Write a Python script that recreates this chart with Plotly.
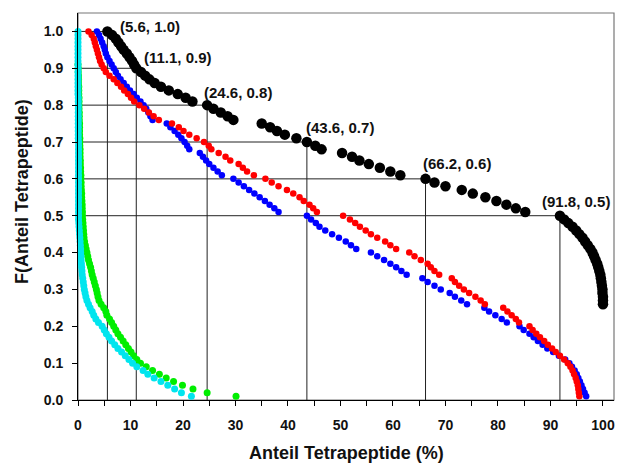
import plotly.graph_objects as go

# ---------------- data ----------------
F_LEVELS = [1.00, 0.99, 0.98, 0.97, 0.96, 0.95, 0.94, 0.93, 0.92, 0.91,
            0.90, 0.89, 0.88, 0.87, 0.86, 0.85, 0.84, 0.83, 0.82, 0.81,
            0.80, 0.79, 0.78, 0.77, 0.76, 0.75, 0.74, 0.73, 0.72, 0.71,
            0.70, 0.69, 0.68, 0.67, 0.66, 0.65, 0.64, 0.63, 0.62, 0.61,
            0.60, 0.59, 0.58, 0.57, 0.56, 0.55, 0.54, 0.53, 0.52, 0.51,
            0.50, 0.49, 0.48, 0.47, 0.46, 0.45, 0.44, 0.43, 0.42, 0.41,
            0.40, 0.39, 0.38, 0.37, 0.36, 0.35, 0.34, 0.33, 0.32, 0.31,
            0.30, 0.29, 0.28, 0.27, 0.26, 0.25, 0.24, 0.23, 0.22, 0.21,
            0.20, 0.19, 0.18, 0.17, 0.16, 0.15, 0.14, 0.13, 0.12, 0.11,
            0.10, 0.09, 0.08, 0.07, 0.06, 0.05, 0.04, 0.03, 0.02, 0.01]

black_x = [5.6, 6.5, 7.2, 7.7, 8.2, 8.7, 9.3, 9.8, 10.3, 10.7,
           11.1, 12.0, 12.8, 13.6, 14.6, 15.8, 17.3, 19.0, 20.5, 21.8,
           24.6, 25.8, 27.2, 28.5, 29.6, 35.0, 36.6, 37.9, 39.4, 41.6,
           43.6, 45.2, 46.4, 50.3, 52.2, 53.6, 55.4, 57.5, 59.5, 61.4,
           66.2, 67.9, 70.0, 73.1, 75.2, 77.6, 79.7, 81.6, 83.4, 85.2,
           91.8, 92.6, 93.4, 94.2, 94.9, 95.5, 96.1, 96.6, 97.1, 97.6,
           98.0, 98.3, 98.6, 98.9, 99.1, 99.3, 99.5, 99.6, 99.7, 99.8,
           99.9, 99.9, 100.0, 100.0, 100.0]
black_y = F_LEVELS[:75]

blue_x = [3.6, 4.0, 4.3, 4.6, 4.9, 5.1, 5.3, 5.6, 6.0, 6.4,
          6.8, 7.2, 7.6, 8.1, 8.7, 9.3, 9.9, 10.6, 11.2, 11.9,
          12.5, 13.0, 13.4, 13.8, 14.2, 16.9, 17.6, 18.4, 19.1, 19.7,
          20.3, 20.8, 21.2, 23.2, 23.8, 24.4, 25.0, 25.8, 26.6, 27.4,
          29.6, 30.6, 31.6, 32.6, 33.6, 34.6, 35.6, 36.5, 37.4, 38.2,
          43.6, 44.4, 45.3, 46.0, 47.1, 48.4, 49.7, 51.0, 52.0, 53.0,
          55.8, 57.0, 58.3, 59.5, 60.6, 61.6, 62.6, 65.6, 66.6, 67.9,
          69.1, 70.8, 71.8, 73.0, 74.1, 77.4, 78.3, 79.5, 80.7, 81.7,
          84.1, 84.9, 86.0, 86.8, 87.6, 88.5, 89.4, 90.5, 91.6, 92.8,
          93.6, 94.1, 94.6, 95.0, 95.3, 95.6, 95.9, 96.2, 96.5, 96.8]
blue_y = F_LEVELS

red_x = [2.0, 2.6, 3.0, 3.2, 3.4, 3.6, 3.8, 4.0, 4.2, 4.5,
         4.9, 5.3, 6.0, 6.8, 7.5, 8.2, 8.8, 9.5, 10.1, 10.7,
         11.7, 12.6, 13.5, 14.4, 15.4, 17.9, 19.2, 20.1, 21.2, 22.6,
         24.0, 24.9, 25.4, 26.8, 28.1, 29.0, 30.6, 31.4, 32.2, 33.5,
         35.7, 36.9, 38.2, 39.8, 41.0, 42.2, 43.0, 44.1, 44.8, 45.5,
         50.5, 51.8, 52.8, 53.7, 54.8, 55.8, 57.0, 58.5, 59.5, 60.6,
         63.1, 64.1, 65.3, 66.6, 67.2, 67.9, 68.8, 71.2, 71.8, 72.6,
         73.5, 74.5, 75.7, 76.7, 77.5, 81.0, 81.8, 82.6, 83.4, 84.0,
         86.0, 86.6, 87.3, 88.0, 88.8, 89.5, 90.3, 91.0, 91.8, 92.6,
         93.3, 93.8, 94.2, 94.5, 94.8, 95.0, 95.2, 95.3, 95.4, 95.5]
red_y = F_LEVELS

green_x = [0.0, 0.05, 0.05, 0.1, 0.1, 0.1, 0.15, 0.15, 0.15, 0.2,
           0.2, 0.2, 0.2, 0.25, 0.25, 0.25, 0.3, 0.3, 0.3, 0.3,
           0.35, 0.35, 0.35, 0.4, 0.4, 0.4, 0.45, 0.45, 0.5, 0.5,
           0.55, 0.55, 0.6, 0.6, 0.65, 0.7, 0.7, 0.75, 0.8, 0.8,
           0.85, 0.85, 0.9, 0.95, 1.0, 1.05, 1.1, 1.15, 1.25, 1.4,
           1.55, 1.7, 1.85, 2.0, 2.2, 2.4, 2.55, 2.7, 2.9, 3.1,
           3.3, 3.5, 3.65, 3.8, 4.0, 4.4, 4.9, 5.3, 5.5, 6.0,
           6.4, 6.8, 7.2, 7.6, 8.1, 8.6, 9.1, 9.6, 10.1, 10.6,
           11.2, 11.9, 13.0, 14.2, 15.5, 16.8, 18.2, 19.9, 21.9, 24.6,
           30.1]
green_y = F_LEVELS[9:]

cyan_x = [0.0, 0.0, 0.0, 0.0, 0.0, 0.0, 0.0, 0.0, 0.0, 0.0,
          0.0, 0.0, 0.0, 0.0, 0.0, 0.0, 0.0, 0.0, 0.05, 0.05,
          0.05, 0.05, 0.05, 0.05, 0.05, 0.05, 0.05, 0.05, 0.05, 0.05,
          0.1, 0.1, 0.1, 0.1, 0.1, 0.1, 0.1, 0.1, 0.1, 0.1,
          0.1, 0.1, 0.1, 0.1, 0.1, 0.1, 0.1, 0.1, 0.1, 0.1,
          0.1, 0.1, 0.15, 0.2, 0.25, 0.3, 0.35, 0.4, 0.45, 0.5,
          0.5, 0.55, 0.6, 0.65, 0.7, 0.75, 0.8, 0.9, 1.0, 1.1,
          1.2, 1.35, 1.5, 1.7, 2.0, 2.3, 2.7, 3.0, 3.4, 3.9,
          4.6, 5.0, 5.4, 5.9, 6.4, 7.0, 7.6, 8.3, 9.0, 9.7,
          10.4, 11.2, 12.4, 13.3, 14.5, 15.8, 17.1, 18.4, 19.7, 21.6]
cyan_y = F_LEVELS

label_x = [5.6, 11.1, 24.6, 43.6, 66.2, 91.8]
label_y = [1.0, 0.9, 0.8, 0.7, 0.6, 0.5]

x_title = "Anteil Tetrapeptide (%)"
y_title = "F(Anteil Tetrapeptide)"

# ---------------- styling ----------------
FONT = "Liberation Sans, Arial, sans-serif"
label_dx = [11, 6, -5, -3, -5, -20]
label_dy = [5, 11, 13, 15, 15, 14]

fig = go.Figure()

series = [
    (black_x, black_y, "#000000", 10.5),
    (blue_x, blue_y, "#0000FF", 6.5),
    (red_x, red_y, "#FF0000", 6.5),
    (green_x, green_y, "#00EE00", 7),
    (cyan_x, cyan_y, "#00E5EE", 7),
]
for xs, ys, col, sz in series:
    fig.add_trace(go.Scatter(x=xs, y=ys, mode="markers",
                             marker=dict(color=col, size=sz, line=dict(width=0)),
                             cliponaxis=False, showlegend=False, hoverinfo="skip"))

# reference lines (drop lines to the axes)
for lx, ly in zip(label_x, label_y):
    fig.add_shape(type="line", x0=lx, x1=lx, y0=0, y1=ly, xref="x", yref="y",
                  line=dict(color="#222222", width=1), layer="below")
    fig.add_shape(type="line", x0=0, x1=lx, y0=ly, y1=ly, xref="x", yref="y",
                  line=dict(color="#222222", width=1), layer="below")

# frame (top/right)
fig.add_shape(type="rect", xref="paper", yref="paper", x0=0, x1=1, y0=0, y1=1,
              line=dict(color="#777777", width=1.2), layer="below")

for lx, ly, dx, dy in zip(label_x, label_y, label_dx, label_dy):
    fig.add_annotation(x=lx, y=ly, xref="x", yref="y", text=f"({lx:.1f}, {ly:.1f})",
                       showarrow=False, xanchor="left", yanchor="middle",
                       xshift=dx, yshift=dy,
                       font=dict(family=FONT, size=15, color="#111111", weight="bold"))

fig.add_annotation(x=0.5, y=-0.136, xref="paper", yref="paper", text=x_title,
                   showarrow=False, xanchor="center", yanchor="middle",
                   font=dict(family=FONT, size=18, color="#111111", weight="bold"))
fig.add_annotation(x=-0.1047, y=0.54, xref="paper", yref="paper", text=y_title,
                   textangle=-90, showarrow=False, xanchor="center", yanchor="middle",
                   font=dict(family=FONT, size=18, color="#111111", weight="bold"))

fig.update_xaxes(range=[0, 102.1], tick0=0, dtick=10, ticks="outside", ticklen=5,
                 tickcolor="black", showline=True, linecolor="black", linewidth=1,
                 showgrid=False, zeroline=False, ticklabelstandoff=7,
                 minor=dict(dtick=5, ticks="outside", ticklen=5, tickcolor="black", showgrid=False),
                 tickfont=dict(family=FONT, size=14, color="#111111", weight="bold"))
fig.update_yaxes(range=[0, 1.05], tick0=0, dtick=0.1, tickformat=".1f", ticks="outside",
                 ticklen=5, tickcolor="black", showline=True, linecolor="black", linewidth=1,
                 showgrid=False, zeroline=False, ticklabelstandoff=6,
                 tickfont=dict(family=FONT, size=14, color="#111111", weight="bold"))

fig.update_layout(width=618, height=463, margin=dict(l=78, r=4, t=13, b=63),
                  plot_bgcolor="white", paper_bgcolor="white")

fig.write_html("out.html")
